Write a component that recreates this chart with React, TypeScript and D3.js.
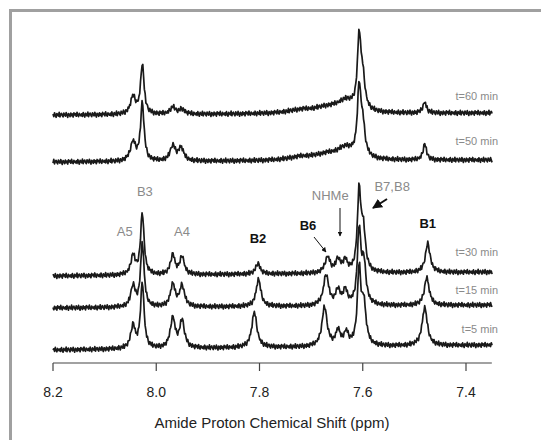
import React from "react";
import * as d3 from "d3";

// ---- data ----
const traceLabels = ["t=60 min", "t=50 min", "t=30 min", "t=15 min", "t=5 min"];
// vertical offset (intensity units) of each trace baseline, left and right end
const baseLeft = [248, 201, 87, 55, 13];
const baseRight = [250, 203, 91, 58, 18];

// peaks per trace: [ppm, height, half width (ppm)]
const peaks60: [number, number, number][] = [
  [8.045, 17, 0.006], [8.027, 50, 0.004], [7.968, 7, 0.006], [7.95, 5, 0.006],
  [7.72, 3, 0.03], [7.67, 5, 0.03], [7.633, 11, 0.02],
  [7.607, 70, 0.004], [7.6, 30, 0.005], [7.48, 11, 0.004],
];
const peaks50: [number, number, number][] = [
  [8.045, 19, 0.006], [8.027, 58, 0.004], [7.968, 15, 0.006], [7.952, 13, 0.006],
  [7.72, 3, 0.03], [7.67, 5, 0.03], [7.633, 11, 0.02],
  [7.607, 66, 0.004], [7.6, 30, 0.005], [7.48, 16, 0.004],
];
const peaks30: [number, number, number][] = [
  [8.045, 19, 0.005], [8.027, 62, 0.004], [7.968, 20, 0.005], [7.95, 18, 0.005],
  [7.803, 11, 0.005], [7.668, 16, 0.006], [7.648, 13, 0.005], [7.634, 12, 0.005],
  [7.607, 78, 0.004], [7.599, 40, 0.005], [7.474, 29, 0.0055],
];
const peaks15: [number, number, number][] = [
  [8.045, 21, 0.005], [8.027, 64, 0.004], [7.968, 22, 0.0055], [7.95, 21, 0.0055],
  [7.802, 27, 0.0055], [7.671, 31, 0.006], [7.648, 15, 0.005], [7.634, 14, 0.005],
  [7.607, 72, 0.004], [7.598, 40, 0.005], [7.476, 28, 0.0055],
];
const peaks5: [number, number, number][] = [
  [8.045, 23, 0.005], [8.027, 66, 0.004], [7.968, 30, 0.0055], [7.95, 27, 0.0055],
  [7.81, 35, 0.006], [7.674, 39, 0.006], [7.648, 15, 0.005], [7.632, 13, 0.005],
  [7.607, 74, 0.004], [7.598, 40, 0.005], [7.48, 38, 0.006],
];
const tracePeaks = [peaks60, peaks50, peaks30, peaks15, peaks5];

// hand-typed baseline noise (intensity units)
const noise = [0.6, -1.1, 1.4, -0.3, -1.6, 0.9, 0.2, -0.8, 1.7, -1.3, 0.4, 1.0, -0.5,
  -1.4, 1.2, 0.1, -0.9, 1.5, -0.2, -1.7, 0.8, 0.3, -1.2, 1.1, -0.6, 0.5, -1.5, 1.3,
  -0.1, 0.7, -1.0, 1.6, -0.4, -1.3, 0.9, 0.0, -0.7];

const xTicks = [8.2, 8.0, 7.8, 7.6, 7.4];
const ppmStart = 8.2;
const ppmEnd = 7.35;

// annotation labels
const annoText = ["B3", "A5", "A4", "B2", "B6", "NHMe", "B7,B8", "B1"];
const annoPpm = [8.022, 8.061, 7.95, 7.803, 7.706, 7.663, 7.543, 7.474];
const annoInt = [170, 130, 130, 123, 136, 166, 175, 138];
const annoGray = [true, true, true, false, false, true, true, false];

export default function App() {
  const W = 541, H = 440;
  const x = d3.scaleLinear().domain([8.2, 7.4]).range([53, 466]);
  const y = d3.scaleLinear().domain([0, 340]).range([363, 23]);

  const step = 0.0015;
  const n = Math.round((ppmStart - ppmEnd) / step);
  const grid = d3.range(n + 1).map((i) => ppmStart - i * step);

  const line = d3
    .line<[number, number]>()
    .x((d) => x(d[0]))
    .y((d) => y(d[1]));

  const paths = tracePeaks.map((pk, ti) => {
    const pts: [number, number][] = grid.map((p, i) => {
      const frac = (ppmStart - p) / (ppmStart - ppmEnd);
      let v = baseLeft[ti] + (baseRight[ti] - baseLeft[ti]) * frac;
      for (const [c, h, w] of pk) {
        const z = (p - c) / w;
        v += h / (1 + z * z);
      }
      v += 1.5 * noise[(i + ti * 7) % noise.length];
      return [p, v];
    });
    return line(pts) || "";
  });

  const labelY = [97, 142, 253, 291, 330];

  return (
    <svg
      width={W}
      height={H}
      style={{ position: "absolute", left: 0, top: 0, background: "#fff" }}
      fontFamily="Liberation Sans, Arial, sans-serif"
    >
      <defs>
        <marker id="ah" viewBox="0 0 10 10" refX="9" refY="5" markerWidth="5" markerHeight="5" orient="auto">
          <path d="M0,0 L10,5 L0,10 z" fill="#111" />
        </marker>
      </defs>
      <rect x={0} y={0} width={W} height={H} fill="#fff" />
      {/* frame */}
      <line x1={9} y1={10.5} x2={W} y2={10.5} stroke="#a0a0a0" strokeWidth={3} />
      <line x1={10.5} y1={9} x2={10.5} y2={H} stroke="#a0a0a0" strokeWidth={3} />

      {paths.map((d, i) => (
        <path key={i} d={d} fill="none" stroke="#1a1a1a" strokeWidth={1.7} strokeLinejoin="round" />
      ))}

      {traceLabels.map((t, i) => (
        <text key={t} x={498} y={labelY[i]} textAnchor="end" dominantBaseline="middle" fontSize={11} fill="#8a8a8a">
          {t}
        </text>
      ))}

      {annoText.map((t, i) => (
        <text
          key={t}
          x={x(annoPpm[i])}
          y={y(annoInt[i])}
          textAnchor="middle"
          dominantBaseline="middle"
          fontSize={13}
          fontWeight={annoGray[i] ? "normal" : "bold"}
          fill={annoGray[i] ? "#8a8a8a" : "#111"}
        >
          {t}
        </text>
      ))}

      {/* arrows */}
      <line x1={314} y1={237} x2={326} y2={252} stroke="#111" strokeWidth={1} markerEnd="url(#ah)" />
      <line x1={340} y1={208} x2={340} y2={236} stroke="#111" strokeWidth={1} markerEnd="url(#ah)" />
      <line x1={387} y1={199} x2={373} y2={208} stroke="#111" strokeWidth={2} markerEnd="url(#ah)" />

      {/* x axis */}
      <line x1={x(ppmStart)} y1={363} x2={x(ppmEnd)} y2={363} stroke="#444" strokeWidth={1.2} />
      {xTicks.map((t) => (
        <g key={t}>
          <line x1={x(t)} y1={363} x2={x(t)} y2={371} stroke="#444" strokeWidth={1.2} />
          <text x={x(t)} y={393} textAnchor="middle" dominantBaseline="middle" fontSize={14} fill="#222">
            {t.toFixed(1)}
          </text>
        </g>
      ))}
      <text x={272} y={424} textAnchor="middle" dominantBaseline="middle" fontSize={15} fill="#222">
        Amide Proton Chemical Shift (ppm)
      </text>
    </svg>
  );
}
